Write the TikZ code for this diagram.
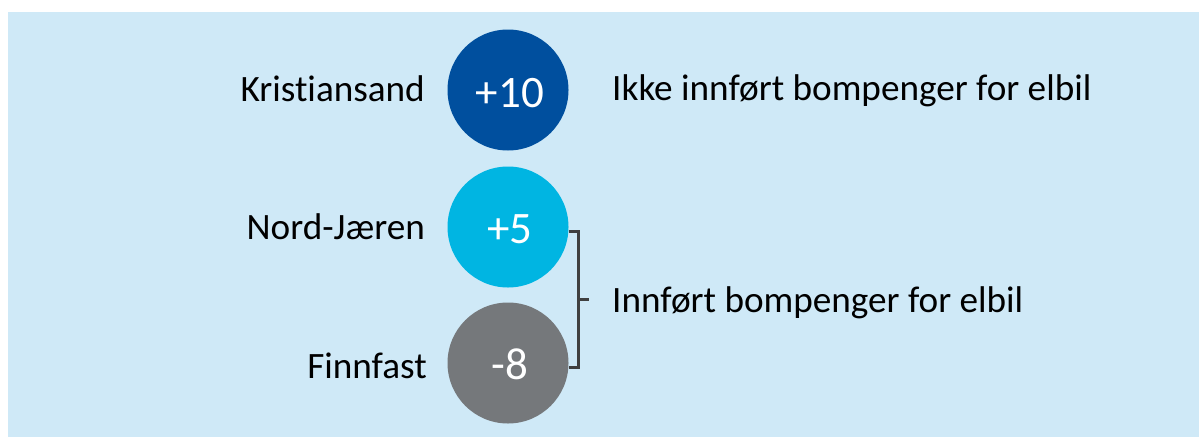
\documentclass[tikz,border=0pt]{standalone}
\usepackage{fontspec}
\setmainfont{Carlito}[Ligatures=CommonOff]
\definecolor{panelbg}{HTML}{CFE9F7}
\definecolor{darkblue}{HTML}{004F9E}
\definecolor{skyblue}{HTML}{00B5E2}
\definecolor{stone}{HTML}{75787B}
\definecolor{bracketgray}{HTML}{404040}
\tikzset{
  disc/.style={circle, minimum size=121pt, inner sep=0pt},
  value/.style={text=white, font=\fontsize{45}{50}\selectfont, anchor=base},
  label/.style={font=\fontsize{37.2}{41}\selectfont, text=black, inner sep=0pt},
  bracketline/.style={draw=bracketgray, line width=3pt}
}
\begin{document}
\begin{tikzpicture}[x=1pt, y=-1pt]
  \useasboundingbox (0,0) rectangle (1199,437);
  \fill[panelbg] (8,12) rectangle (1199,437);

  % region circles
  \node[disc, fill=darkblue] (c1) at (508,90) {};
  \node[disc, fill=skyblue] (c2) at (508,227) {};
  \node[disc, fill=stone] (c3) at (508,363) {};

  % values in the circles
  \node[value] (v1) at (510,107) {+10};
  \node[value] (v2) at (510,243) {+5};
  \node[value] (v3) at (510,379) {-8};

  % region names
  \node[label, anchor=base east] (n1) at (425,101) {Kristiansand};
  \node[label, anchor=base east] (n2) at (425,239) {Nord-Jæren};
  \node[label, anchor=base east] (n3) at (427,378) {Finnfast};

  % descriptions
  \node[label, anchor=base west] (d1) at (612,100) {Ikke innført bompenger for elbil};
  \node[label, anchor=base west] (d2) at (612,312) {Innført bompenger for elbil};

  % bracket grouping the two lower circles
  \coordinate (bt) at (578,231);
  \coordinate (bb) at (578,367);
  \coordinate (bm) at (578,299);
  \draw[bracketline] (c2.east |- bt) -- (bt) -- (bb) -- (c3.east |- bb);
  \draw[bracketline] (bm) -- (589,299);
\end{tikzpicture}
\end{document}
